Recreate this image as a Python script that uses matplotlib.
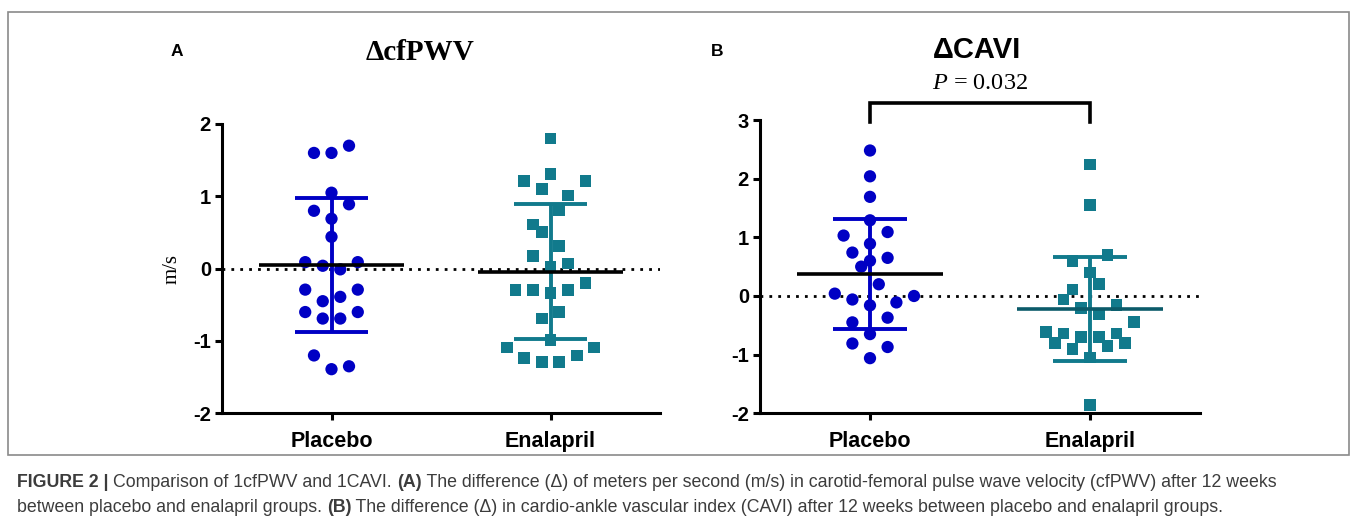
import matplotlib
matplotlib.use("Agg")
import matplotlib.pyplot as plt
from matplotlib.patches import Rectangle

plt.rcParams['mathtext.fontset'] = 'custom'
plt.rcParams['mathtext.it'] = 'Liberation Serif:italic'
plt.rcParams['mathtext.rm'] = 'Liberation Serif'

# ---------------- data ----------------
groups = ["Placebo", "Enalapril"]

a_placebo = [1.60, 1.60, 1.70, 1.05, 0.89, 0.80, 0.69, 0.44, 0.09, 0.04, -0.01, 0.09,
             -0.29, -0.29, -0.45, -0.39, -0.60, -0.60, -0.69, -0.69, -1.20, -1.39, -1.35]
a_placebo_slot = [-2, 0, 2, 0, 2, -2, 0, 0, -3, -1, 1, 3,
                  -3, 3, -1, 1, -3, 3, -1, 1, -2, 0, 2]
a_enal = [1.80, 1.31, 1.21, 1.21, 1.10, 1.01, 0.81, 0.61, 0.51, 0.31, 0.17, 0.03, 0.07,
          -0.29, -0.29, -0.29, -0.34, -0.20, -0.60, -0.69, -0.99, -1.09, -1.09,
          -1.24, -1.20, -1.29, -1.29]
a_enal_slot = [0, 0, -3, 4, -1, 2, 1, -2, -1, 1, -2, 0, 2,
               -4, -2, 2, 0, 4, 1, -1, 0, -5, 5, -3, 3, -1, 1]

b_placebo = [2.48, 2.04, 1.69, 1.29, 1.03, 1.09, 0.89, 0.74, 0.65, 0.60, 0.50, 0.20,
             0.04, 0.00, -0.06, -0.11, -0.16, -0.37, -0.45, -0.65, -0.81, -0.87, -1.06]
b_placebo_slot = [0, 0, 0, 0, -3, 2, 0, -2, 2, 0, -1, 1,
                  -4, 5, -2, 3, 0, 2, -2, 0, -2, 2, 0]
b_enal = [2.24, 1.55, 0.70, 0.60, 0.40, 0.20, 0.11, -0.06, -0.20, -0.15, -0.31, -0.45,
          -0.61, -0.64, -0.70, -0.70, -0.64, -0.80, -0.91, -0.85, -0.80, -1.05, -1.86]
b_enal_slot = [0, 0, 2, -2, 0, 1, -2, -3, -1, 3, 1, 5,
               -5, -3, -1, 1, 3, -4, -2, 2, 4, 0, 0]

a_mean = [0.05, -0.04]
a_sd = [0.92, 0.93]
b_mean = [0.37, -0.22]
b_sd = [0.94, 0.88]

p_text = "0.032"

line1 = [("FIGURE 2 | ", True), ("Comparison of 1cfPWV and 1CAVI. ", False), ("(A)", True),
         (" The difference (Δ) of meters per second (m/s) in carotid-femoral pulse wave "
          "velocity (cfPWV) after 12 weeks", False)]
line2 = [("between placebo and enalapril groups. ", False), ("(B)", True),
         (" The difference (Δ) in cardio-ankle vascular index (CAVI) after 12 weeks "
          "between placebo and enalapril groups.", False)]

# ---------------- style ----------------
BLUE = "#0000C4"
TEAL = "#117A8C"
DARKTEAL = "#0B5A69"
SLOT = 0.04

W, H = 1357, 532
fig = plt.figure(figsize=(W / 100, H / 100), dpi=100)


def fx(px):
    return px / W


def fy(py):
    return 1 - py / H


# outer frame
fig.add_artist(Rectangle((fx(8), fy(455)), fx(1349) - fx(8), fy(12) - fy(455),
                         transform=fig.transFigure, fill=False, ec="#8a8a8a", lw=1.2))


def make_axes(left_px, right_px, top_px, bottom_px):
    return fig.add_axes([fx(left_px), fy(bottom_px), fx(right_px) - fx(left_px),
                         fy(top_px) - fy(bottom_px)])


def style_axes(ax, ylim, yticks):
    ax.set_xlim(-0.5, 1.5)
    ax.set_ylim(*ylim)
    ax.set_yticks(yticks)
    ax.set_yticklabels([str(t) for t in yticks], fontfamily="Liberation Sans",
                       fontweight="bold", fontsize=14.5)
    ax.set_xticks([0, 1])
    ax.set_xticklabels(groups, fontfamily="Liberation Sans", fontweight="bold",
                       fontsize=15.5)
    for s in ["top", "right"]:
        ax.spines[s].set_visible(False)
    for s in ["left", "bottom"]:
        ax.spines[s].set_linewidth(2.2)
    ax.tick_params(axis="both", width=2.2, length=5, pad=3)
    ax.tick_params(axis="x", pad=8)
    ax.axhline(0, color="black", lw=2, ls=(0, (1, 2.2)), zorder=1)
    ax.patch.set_alpha(0)


def draw_group(ax, xpos, vals, slots, mean, sd, color, marker, meancolor):
    xs = [xpos + s * SLOT for s in slots]
    ax.scatter(xs, vals, s=78 if marker == "o" else 72, marker=marker, color=color,
               edgecolors="none", zorder=3)
    ax.plot([xpos, xpos], [mean - sd, mean + sd], color=color, lw=2.8, zorder=4,
            solid_capstyle="butt")
    for yv in (mean - sd, mean + sd):
        ax.plot([xpos - 0.166, xpos + 0.166], [yv, yv], color=color, lw=2.8, zorder=4,
                solid_capstyle="butt")
    ax.plot([xpos - 0.33, xpos + 0.33], [mean, mean], color=meancolor, lw=2.6,
            zorder=5, solid_capstyle="butt")


# ---------- Panel A ----------
axA = make_axes(222, 660, 124, 413.3)
style_axes(axA, (-2, 2), [-2, -1, 0, 1, 2])
draw_group(axA, 0, a_placebo, a_placebo_slot, a_mean[0], a_sd[0], BLUE, "o", "black")
draw_group(axA, 1, a_enal, a_enal_slot, a_mean[1], a_sd[1], TEAL, "s", "black")
axA.set_ylabel("m/s", fontfamily="Liberation Serif", fontsize=15, labelpad=8)

# ---------- Panel B ----------
axB = make_axes(760, 1200, 120, 413.3)
style_axes(axB, (-2, 3), [-2, -1, 0, 1, 2, 3])
draw_group(axB, 0, b_placebo, b_placebo_slot, b_mean[0], b_sd[0], BLUE, "o", "black")
draw_group(axB, 1, b_enal, b_enal_slot, b_mean[1], b_sd[1], TEAL, "s", DARKTEAL)

# significance bracket
axB.plot([0, 0, 1, 1], [2.97, 3.29, 3.29, 2.97], color="black", lw=2.6,
         clip_on=False, solid_joinstyle="miter", zorder=6)
axB.text(0.5, 3.63, r"$P$ = " + p_text, ha="center", va="center",
         fontfamily="Liberation Serif", fontsize=17.5)

# titles and panel letters
fig.text(fx(420), fy(52), "ΔcfPWV", ha="center", va="center",
         fontfamily="Liberation Serif", fontweight="bold", fontsize=21)
fig.text(fx(977), fy(50), "ΔCAVI", ha="center", va="center",
         fontfamily="Liberation Sans", fontweight="bold", fontsize=21)
fig.text(fx(177), fy(52), "A", ha="center", va="center",
         fontfamily="Liberation Sans", fontweight="bold", fontsize=12.5)
fig.text(fx(717), fy(52), "B", ha="center", va="center",
         fontfamily="Liberation Sans", fontweight="bold", fontsize=12.5)

# caption with mixed weights (pieces placed one after another)
CAPC = "#3c3c3c"
CAPFS = 12.8
renderer = fig.canvas.get_renderer()


def place_caption(x_px, y_px, parts):
    x = x_px
    for txt, bold in parts:
        t = fig.text(fx(x), fy(y_px), txt, fontfamily="Liberation Sans", fontsize=CAPFS,
                     color=CAPC, fontweight="bold" if bold else "normal",
                     va="baseline", ha="left")
        x = x + t.get_window_extent(renderer=renderer).width


place_caption(17, 487, line1)
place_caption(17, 512, line2)

fig.savefig("out.png", dpi=100)
